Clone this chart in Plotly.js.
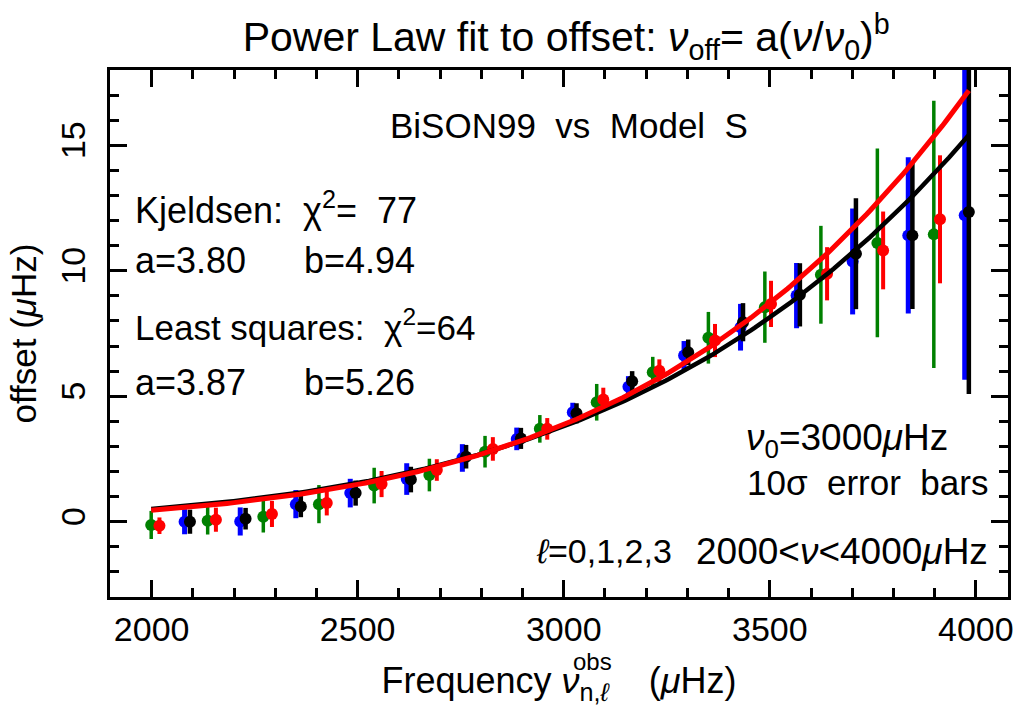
<!DOCTYPE html>
<html>
<head>
<meta charset="utf-8">
<script src="https://cdn.plot.ly/plotly-3.0.1.min.js"></script>
<style>html,body{margin:0;padding:0;background:#fff;}#chart{width:1018px;height:710px;}</style>
</head>
<body>
<div id="chart"></div>
<script>
// l=0 (black)
var freqL0 = [2093, 2228, 2362, 2495, 2629, 2763, 2896, 3031, 3166, 3302, 3435, 3573, 3709, 3846, 3983];
var offL0  = [0.00, 0.12, 0.61, 1.14, 1.68, 2.59, 3.32, 4.32, 5.60, 6.75, 7.95, 9.04, 10.68, 11.41, 12.34];
var errL0  = [0.48, 0.43, 0.43, 0.50, 0.51, 0.47, 0.42, 0.40, 0.40, 0.51, 0.76, 1.26, 2.21, 2.93, 7.25];
// l=1 (red)
var freqL1 = [2019, 2156, 2292, 2425, 2558, 2692, 2828, 2960, 3096, 3232, 3367, 3503, 3639, 3775, 3913];
var offL1  = [-0.16, 0.08, 0.31, 0.75, 1.50, 2.06, 2.90, 3.70, 4.87, 6.02, 7.22, 8.68, 9.88, 10.81, 12.05];
var errL1  = [0.33, 0.48, 0.52, 0.50, 0.52, 0.43, 0.47, 0.43, 0.47, 0.45, 0.66, 0.92, 1.06, 1.55, 2.55];
// l=2 (blue)
var freqL2 = [2080, 2215, 2350, 2482, 2619, 2754, 2886, 3022, 3157, 3292, 3429, 3565, 3701, 3836, 3973];
var offL2  = [0.00, 0.01, 0.70, 1.14, 1.70, 2.54, 3.30, 4.36, 5.38, 6.62, 7.75, 9.01, 10.37, 11.41, 12.21];
var errL2  = [0.50, 0.56, 0.56, 0.57, 0.63, 0.55, 0.45, 0.38, 0.42, 0.58, 0.93, 1.30, 2.11, 3.11, 6.55];
// l=3 (green)
var freqL3 = [1999, 2136, 2271, 2406, 2540, 2674, 2809, 2942, 3080, 3216, 3351, 3488, 3624, 3761, 3898];
var offL3  = [-0.13, 0.04, 0.20, 0.70, 1.44, 1.86, 2.79, 3.70, 4.76, 5.96, 7.33, 8.55, 9.84, 11.11, 11.45];
var errL3  = [0.56, 0.55, 0.63, 0.76, 0.71, 0.65, 0.63, 0.55, 0.73, 0.61, 1.03, 1.42, 1.95, 3.76, 5.32];

// Power-law fit parameters stated in the chart: offset = a (nu/nu0)^b
var nu0 = 3000;
var fitKjeldsen = {a: 3.80, b: 4.94};
var fitLSQ = {a: 3.87, b: 5.26};
var fitRange = [1999, 3983];

var xTickVals = [2000, 2500, 3000, 3500, 4000];
var yTickVals = [0, 5, 10, 15];

function fitCurve(p) {
  var xs = [], ys = [];
  for (var f = fitRange[0]; f <= fitRange[1]; f += 8) {
    xs.push(f);
    ys.push(p.a * Math.pow(f / nu0, p.b));
  }
  return {x: xs, y: ys};
}

var FONT = '"Liberation Sans", Arial, sans-serif';

function pts(x, y, e, color, thick) {
  return {
    x: x, y: y, type: 'scatter', mode: 'markers',
    marker: {color: color, size: 12},
    error_y: {type: 'data', array: e, visible: true, color: color, thickness: thick, width: 0},
    showlegend: false, hoverinfo: 'x+y', cliponaxis: true
  };
}

var kj = fitCurve(fitKjeldsen);
var ls = fitCurve(fitLSQ);

var data = [
  pts(freqL2, offL2, errL2, '#0000ff', 5),
  pts(freqL0, offL0, errL0, '#000000', 4.5),
  pts(freqL3, offL3, errL3, '#008000', 3.5),
  pts(freqL1, offL1, errL1, '#ff0000', 4),
  {x: kj.x, y: kj.y, type: 'scatter', mode: 'lines', line: {color: '#000000', width: 4.5}, showlegend: false},
  {x: ls.x, y: ls.y, type: 'scatter', mode: 'lines', line: {color: '#ff0000', width: 5}, showlegend: false}
];

function ann(text, x, y, xanchor, size) {
  return {text: text, xref: 'paper', yref: 'paper', x: x, y: y, xanchor: xanchor, yanchor: 'middle',
          showarrow: false, font: {family: FONT, size: size || 35, color: '#000'}};
}
function px(p) { return (p - 110) / 898; }
function py(p) { return (597 - p) / 527; }

var annotations = [
  ann('BiSON99  vs  Model  S', px(569), py(125), 'center'),
  ann('Kjeldsen:  χ<sup>2</sup>=  77', px(133), py(208), 'left', 36),
  ann('a=3.80', px(133), py(260), 'left', 36),
  ann('b=4.94', px(302), py(260), 'left', 36),
  ann('Least squares:  χ<sup>2</sup>=64', px(133), py(325), 'left'),
  ann('a=3.87', px(133), py(382), 'left', 36),
  ann('b=5.26', px(302), py(382), 'left', 36),
  ann('<i>ν</i><sub>0</sub>=3000<i>μ</i>Hz', px(847), py(440), 'center', 37),
  ann('10σ  error  bars', px(990), py(482), 'right'),
  ann('<i>ℓ</i>=0,1,2,3', px(534), py(551), 'left', 34),
  ann('2000&lt;<i>ν</i>&lt;4000<i>μ</i>Hz', px(990), py(551), 'right', 37),
  {text: 'obs', xref: 'paper', yref: 'paper', x: px(571), y: py(661), xanchor: 'left', yanchor: 'middle',
   showarrow: false, font: {family: FONT, size: 24, color: '#000'}}
];

var axisCommon = {
  showline: true, linecolor: '#000', linewidth: 3, mirror: 'allticks',
  ticks: 'inside', ticklen: 17, tickwidth: 3, tickcolor: '#000',
  showgrid: false, zeroline: false,
  tickfont: {family: FONT, size: 34, color: '#000'}
};

var layout = {
  width: 1018, height: 710,
  paper_bgcolor: '#fff', plot_bgcolor: '#fff',
  margin: {l: 110, r: 10, t: 70, b: 113},
  showlegend: false,
  font: {family: FONT, color: '#000'},
  title: {text: 'Power Law fit to offset: <i>ν</i><sub>off</sub>= a(<i>ν</i>/<i>ν</i><sub>0</sub>)<sup>b</sup>',
          font: {family: FONT, size: 41, color: '#000'},
          xref: 'paper', x: 0.508, xanchor: 'center', yref: 'container', y: 0.948, yanchor: 'middle'},
  xaxis: Object.assign({}, axisCommon, {
    range: [1899, 4078], tickmode: 'array', tickvals: xTickVals,
    ticktext: xTickVals.map(String),
    minor: {dtick: 100, tick0: 2000, ticks: 'inside', ticklen: 9, tickwidth: 3, tickcolor: '#000', showgrid: false},
    title: {text: 'Frequency <i>ν</i><sub>n,<i>ℓ</i></sub>&nbsp;&nbsp;&nbsp;&nbsp;(<i>μ</i>Hz)', font: {family: FONT, size: 36, color: '#000'}, standoff: 22}
  }),
  yaxis: Object.assign({}, axisCommon, {
    range: [-3, 18], tickmode: 'array', tickvals: yTickVals,
    ticktext: yTickVals.map(String), tickangle: -90, ticklabelstandoff: 8,
    minor: {dtick: 1, tick0: 0, ticks: 'inside', ticklen: 9, tickwidth: 3, tickcolor: '#000', showgrid: false},
    title: {text: 'offset (<i>μ</i>Hz)', font: {family: FONT, size: 35, color: '#000'}, standoff: 8}
  }),
  annotations: annotations
};

Plotly.newPlot('chart', data, layout, {displayModeBar: false, staticPlot: true});
</script>
</body>
</html>
